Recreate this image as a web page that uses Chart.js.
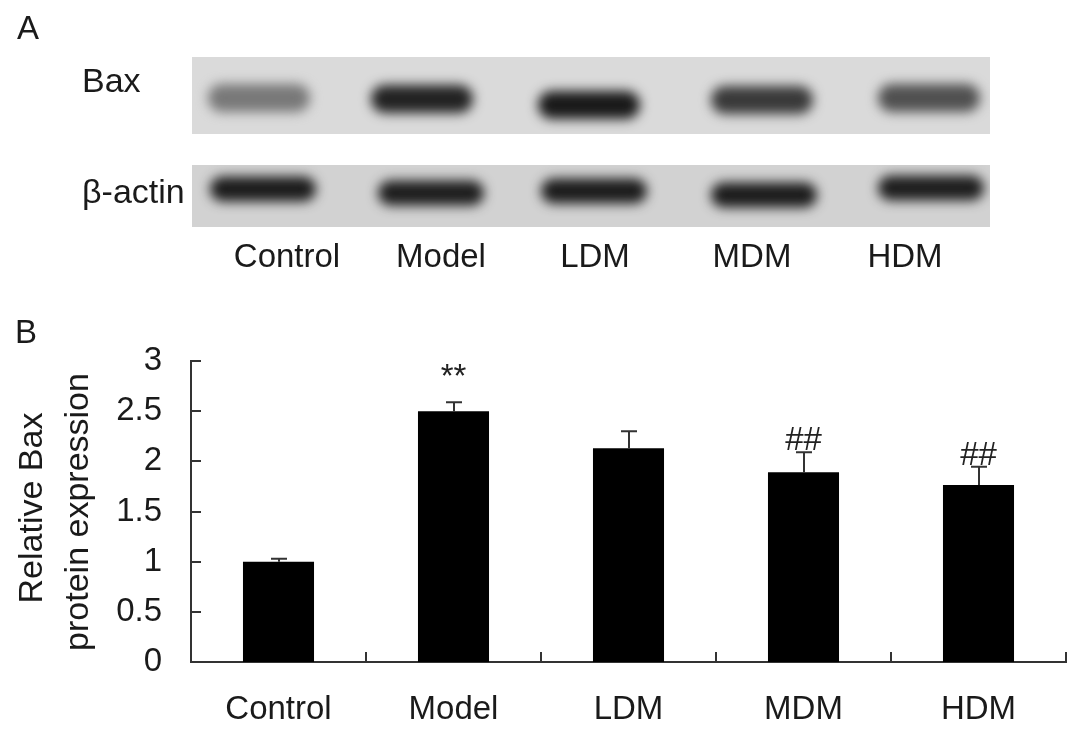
<!DOCTYPE html>
<html>
<head>
<meta charset="utf-8">
<script src="https://cdn.jsdelivr.net/npm/chart.js@4.4.1/dist/chart.umd.min.js"></script>
<style>
  html, body { margin: 0; padding: 0; background: #fff; }
  #wrap { position: relative; width: 1087px; height: 732px; }
</style>
</head>
<body>
<div id="wrap"><canvas id="bar-chart" width="1087" height="732"></canvas></div>
<script>
var groups = ['Control', 'Model', 'LDM', 'MDM', 'HDM'];
var baxExpression = [1.0, 2.5, 2.13, 1.89, 1.765];
var baxError = [0.03, 0.09, 0.17, 0.20, 0.18];
var marks = ['', '**', '', '##', '##'];
var yTicks = [0, 0.5, 1, 1.5, 2, 2.5, 3];

// western blot band darkness, 0 = none, 1 = black
var baxBand = [0.45, 0.9, 0.95, 0.78, 0.66];
var actinBand = [0.93, 0.92, 0.93, 0.93, 0.92];

var FONT = "'Liberation Sans', Arial, sans-serif";
var INK = '#1a1a1a';

// blot layout (panel A)
var blot = {
  bax:   { x: 192, y: 57,  w: 798, h: 77, bg: '#dadada', lanes: [259, 422, 589, 762, 929], ys: [98, 99, 105, 100, 98] },
  actin: { x: 192, y: 165, w: 798, h: 62, bg: '#d2d2d2', lanes: [263, 431, 594, 764, 931], ys: [189, 193, 191, 195, 188] },
  labelX: [287, 441, 595, 752, 905]
};

function drawBand(ctx, cx, cy, w, h, dark) {
  var g = Math.round(205 - 190 * dark);
  ctx.save();
  ctx.filter = 'blur(6px)';
  ctx.fillStyle = 'rgb(' + g + ',' + g + ',' + g + ')';
  ctx.beginPath();
  ctx.roundRect(cx - w / 2, cy - h / 2, w, h, h / 2);
  ctx.fill();
  ctx.restore();
}

function drawStrip(ctx, s, darkness, bw, bh) {
  ctx.save();
  ctx.beginPath();
  ctx.rect(s.x, s.y, s.w, s.h);
  ctx.clip();
  ctx.fillStyle = s.bg;
  ctx.fillRect(s.x, s.y, s.w, s.h);
  for (var i = 0; i < s.lanes.length; i++) {
    drawBand(ctx, s.lanes[i], s.ys[i], bw, bh, darkness[i]);
  }
  ctx.restore();
}

var figurePlugin = {
  id: 'figure',
  beforeDraw: function (chart) {
    var ctx = chart.ctx;
    ctx.save();
    ctx.fillStyle = '#fff';
    ctx.fillRect(0, 0, chart.width, chart.height);

    drawStrip(ctx, blot.bax, baxBand, 102, 28);
    drawStrip(ctx, blot.actin, actinBand, 106, 25);

    ctx.fillStyle = INK;
    ctx.textBaseline = 'alphabetic';
    ctx.textAlign = 'left';
    ctx.font = '33px ' + FONT;
    ctx.fillText('A', 17, 39);
    ctx.fillText('B', 15, 343);
    ctx.font = '34px ' + FONT;
    ctx.fillText('Bax', 82, 92);
    ctx.fillText('\u03b2-actin', 82, 203);

    ctx.textAlign = 'center';
    ctx.font = '33px ' + FONT;
    for (var i = 0; i < groups.length; i++) {
      ctx.fillText(groups[i], blot.labelX[i], 267);
    }

    // y axis title, two lines
    ctx.font = '34px ' + FONT;
    ctx.save();
    ctx.translate(42, 508);
    ctx.rotate(-Math.PI / 2);
    ctx.fillText('Relative Bax', 0, 0);
    ctx.restore();
    ctx.save();
    ctx.translate(88, 512);
    ctx.rotate(-Math.PI / 2);
    ctx.fillText('protein expression', 0, 0);
    ctx.restore();
    ctx.restore();
  },
  afterDraw: function (chart) {
    var ctx = chart.ctx;
    var x = chart.scales.x, y = chart.scales.y;
    var area = chart.chartArea;
    ctx.save();
    ctx.strokeStyle = '#333';
    ctx.lineWidth = 2;

    // inward tick marks
    ctx.beginPath();
    yTicks.forEach(function (v) {
      var py = Math.round(y.getPixelForValue(v));
      ctx.moveTo(area.left, py);
      ctx.lineTo(area.left + 10, py);
    });
    for (var i = 1; i <= groups.length; i++) {
      var px = Math.round(x.getPixelForValue(i - 0.5));
      ctx.moveTo(px, area.bottom);
      ctx.lineTo(px, area.bottom - 10);
    }
    ctx.stroke();

    // error bars
    ctx.beginPath();
    for (var j = 0; j < baxExpression.length; j++) {
      var cx = Math.round(x.getPixelForValue(j));
      var top = y.getPixelForValue(baxExpression[j]);
      var cap = y.getPixelForValue(baxExpression[j] + baxError[j]);
      ctx.moveTo(cx, top);
      ctx.lineTo(cx, cap);
      ctx.moveTo(cx - 8, cap);
      ctx.lineTo(cx + 8, cap);
    }
    ctx.stroke();

    // significance marks
    ctx.fillStyle = '#222';
    ctx.font = '33px ' + FONT;
    ctx.textAlign = 'center';
    ctx.textBaseline = 'alphabetic';
    for (var k = 0; k < marks.length; k++) {
      if (!marks[k]) continue;
      var capY = y.getPixelForValue(baxExpression[k] + baxError[k]);
      var lift = marks[k] === '**' ? 15 : 2;
      ctx.fillText(marks[k], x.getPixelForValue(k), capY - lift);
    }
    ctx.restore();
  }
};

function makeChart() {
  var ctx = document.getElementById('bar-chart').getContext('2d');
  return new Chart(ctx, {
    type: 'bar',
    data: {
      labels: groups,
      datasets: [{
        label: 'Relative Bax protein expression',
        data: baxExpression,
        backgroundColor: '#000',
        borderWidth: 0,
        categoryPercentage: 1,
        barPercentage: 0.406
      }]
    },
    options: {
      responsive: false,
      animation: false,
      devicePixelRatio: 1,
      layout: { padding: { left: 0, top: 361, right: 21, bottom: 0 } },
      plugins: { legend: { display: false }, tooltip: { enabled: false } },
      scales: {
        x: {
          offset: true,
          grid: { display: false },
          border: { display: true, color: '#333', width: 2 },
          ticks: { color: INK, padding: 20, font: { family: FONT, size: 33 } },
          afterFit: function (scale) { scale.height = 70; }
        },
        y: {
          min: 0,
          max: 3,
          afterBuildTicks: function (scale) {
            scale.ticks = yTicks.map(function (v) { return { value: v }; });
          },
          grid: { display: false },
          border: { display: true, color: '#333', width: 2 },
          ticks: {
            color: INK,
            padding: 21,
            font: { family: FONT, size: 33 },
            callback: function (v) { return String(v); }
          },
          afterFit: function (scale) { scale.width = 191; }
        }
      }
    },
    plugins: [figurePlugin]
  });
}

makeChart();
</script>
</body>
</html>
